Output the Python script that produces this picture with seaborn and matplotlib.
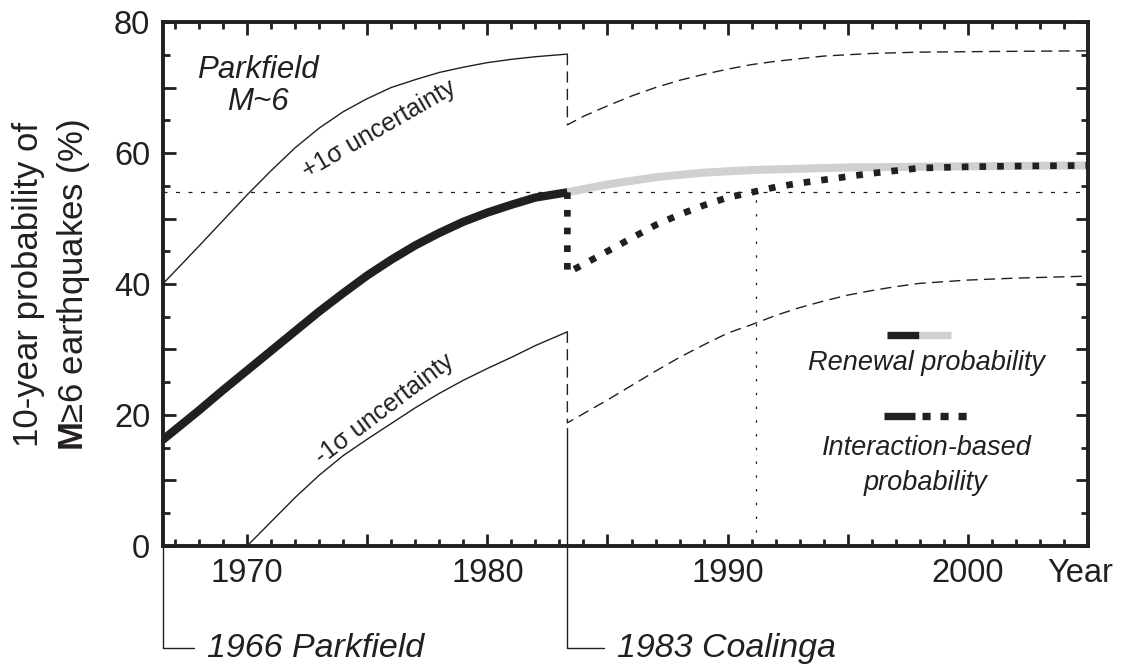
import matplotlib
matplotlib.use("Agg")
import matplotlib.pyplot as plt
import pandas as pd
import seaborn as sns
from matplotlib.ticker import MultipleLocator
from matplotlib.transforms import offset_copy

# ---- event times (decimal years) and reference levels ----
PARKFIELD_YEAR = 1966.49
COALINGA_YEAR = 1983.33
END_YEAR = 2005.0
RECOVERY_YEAR = 1991.2        # interaction probability regains the pre-Coalinga level
PRE_COALINGA_LEVEL = 54.0     # renewal probability just before Coalinga (%)

# ---- renewal probability up to 1983 (thick black) ----
renewal_years = [1966.49, 1968, 1969, 1970, 1971, 1972, 1973, 1974, 1975,
                 1976, 1977, 1978, 1979, 1980, 1981, 1982, 1983.33]
renewal_prob = [16.2, 20.7, 23.8, 26.8, 29.8, 32.8, 35.8, 38.6, 41.3,
                43.7, 45.9, 47.8, 49.5, 50.9, 52.1, 53.2, 54.0]

# ---- renewal probability after 1983 (grey) ----
renewal_after_years = [1983.33, 1985, 1987, 1989, 1991, 1993, 1995, 1998, 2001, 2005]
renewal_after_prob = [54.0, 55.2, 56.3, 57.0, 57.4, 57.6, 57.8, 57.9, 58.0, 58.1]

# ---- interaction-based probability (drops at Coalinga, then recovers) ----
interaction_years = [1983.33, 1983.33, 1984, 1985, 1986, 1987, 1988, 1989, 1990,
                     1991, 1992, 1993, 1994, 1995, 1996, 1998, 2000, 2002, 2005]
interaction_prob = [54.0, 41.7, 43.0, 45.0, 47.0, 49.0, 50.6, 52.0, 53.2,
                    54.0, 54.8, 55.4, 55.9, 56.4, 56.9, 57.7, 57.9, 58.0, 58.1]

# ---- +1 sigma bounds ----
upper_years = [1966.49, 1968, 1970, 1971, 1972, 1973, 1974, 1975, 1976,
               1977, 1978, 1979, 1980, 1981, 1982, 1983.33]
upper_prob = [40.0, 45.8, 53.6, 57.3, 60.8, 63.8, 66.3, 68.3, 70.0,
              71.2, 72.3, 73.1, 73.8, 74.3, 74.7, 75.1]
upper_after_years = [1983.33, 1983.33, 1984, 1985, 1986, 1987, 1988, 1989, 1990,
                     1991, 1992, 1994, 1996, 1998, 2001, 2005]
upper_after_prob = [75.1, 64.3, 65.6, 67.2, 68.7, 70.0, 71.1, 72.0, 72.8,
                    73.5, 74.0, 74.8, 75.2, 75.4, 75.5, 75.6]

# ---- -1 sigma bounds ----
lower_years = [1966.49, 1970, 1971, 1972, 1973, 1974, 1975, 1976, 1977,
               1978, 1979, 1980, 1981, 1982, 1983.33]
lower_prob = [0.0, 0.0, 3.7, 7.4, 10.8, 13.8, 16.3, 18.7, 21.1,
              23.3, 25.3, 27.1, 28.8, 30.6, 32.7]
lower_after_years = [1983.33, 1983.33, 1984, 1985, 1986, 1987, 1988, 1989, 1990,
                     1991, 1992, 1993, 1994, 1995, 1996, 1997, 1998, 2000, 2002, 2005]
lower_after_prob = [32.7, 18.8, 20.2, 22.3, 24.5, 26.7, 28.8, 30.7, 32.5,
                    33.8, 35.2, 36.4, 37.4, 38.3, 39.0, 39.6, 40.1, 40.6, 40.9, 41.2]

# ---- axis ticks ----
x_major = [1970, 1975, 1980, 1985, 1990, 1995, 2000, 2005]
x_labels = ["1970", "", "1980", "", "1990", "", "2000", ""]
y_major = [0, 10, 20, 30, 40, 50, 60, 70, 80]
y_labels = ["0", "", "20", "", "40", "", "60", "", "80"]

INK = "#231f20"
GREY = "#d0d0d0"

sns.set_theme(style="ticks")
plt.rcParams["font.family"] = ["Liberation Sans", "DejaVu Sans"]
plt.rcParams["mathtext.fontset"] = "custom"
plt.rcParams["mathtext.rm"] = "Liberation Sans"
plt.rcParams["mathtext.bf"] = "Liberation Sans:bold"
plt.rcParams["text.color"] = INK

fig = plt.figure(figsize=(11.23, 6.71), dpi=100)
ax = fig.add_axes([0.1449, 0.1863, 0.9689 - 0.1449, 0.9672 - 0.1863])


def draw(years, prob, **kw):
    df = pd.DataFrame({"year": years, "prob": prob})
    sns.lineplot(data=df, x="year", y="prob", ax=ax, estimator=None,
                 sort=False, legend=False, **kw)


dotted_sq = (0, (1.0, 1.65))
thin_dash = (0, (8, 4.5))

# reference lines
ax.axhline(PRE_COALINGA_LEVEL, color=INK, lw=0.9, linestyle=(0, (3.2, 6.8)), zorder=1)
ax.vlines(RECOVERY_YEAR, 0, PRE_COALINGA_LEVEL, color=INK, lw=0.9,
          linestyles=[(0, (2.0, 9.0))], zorder=1)

# uncertainty bounds
draw(upper_years, upper_prob, color=INK, lw=1.0)
draw(lower_years, lower_prob, color=INK, lw=1.0, clip_on=False)
draw(upper_after_years, upper_after_prob, color=INK, lw=1.0, linestyle=thin_dash)
draw(lower_after_years, lower_after_prob, color=INK, lw=1.0, linestyle=thin_dash)

# probabilities
draw(renewal_after_years, renewal_after_prob, color=GREY, lw=5.8,
     solid_capstyle="butt", zorder=3)
draw(interaction_years, interaction_prob, color=INK, lw=4.8,
     linestyle=dotted_sq, dash_capstyle="butt", zorder=4)
draw(renewal_years, renewal_prob, color=INK, lw=6.0,
     solid_capstyle="butt", zorder=5)

# axes styling
ax.set_xlim(PARKFIELD_YEAR, END_YEAR)
ax.set_ylim(0, 80)
ax.set_xticks(x_major, x_labels)
ax.set_yticks(y_major, y_labels)
ax.xaxis.set_minor_locator(MultipleLocator(1))
ax.yaxis.set_minor_locator(MultipleLocator(5))
ax.tick_params(which="both", direction="in", top=True, right=True,
               color=INK, width=2.0, labelsize=23.5, labelcolor=INK, pad=9)
ax.tick_params(which="major", length=9)
ax.tick_params(which="minor", length=5)
for s in ax.spines.values():
    s.set_linewidth(2.8)
    s.set_color(INK)
    s.set_zorder(6)
ax.set_xlabel("")
ax.set_ylabel("")
ax.grid(False)

ax.text(0.9914, 0, "Year", ha="center", va="top", fontsize=23.5, color=INK,
        transform=offset_copy(ax.transAxes, fig=fig, y=-9, units="points"))

# y-axis title, two lines
fig.text(38.5 / 1123, 1 - 284 / 671, "10-year probability of", rotation=90,
         rotation_mode="anchor", ha="center", va="baseline", fontsize=25, color=INK)
fig.text(83.5 / 1123, 1 - 285 / 671, r"$\mathbf{M}$≥6 earthquakes (%)", rotation=90,
         rotation_mode="anchor", ha="center", va="baseline", fontsize=25, color=INK)

# fault label
ax.text(0.1025, 0.8931, "Parkfield", style="italic", fontsize=22.5,
        ha="center", va="baseline", transform=ax.transAxes)
ax.text(0.1025, 0.8320, "M~6", style="italic", fontsize=22.5,
        ha="center", va="baseline", transform=ax.transAxes)

# curve labels
ax.text(0.2338, 0.7958, "+1σ uncertainty", fontsize=18, rotation=30,
        rotation_mode="anchor", ha="center", va="center", transform=ax.transAxes)
ax.text(0.2394, 0.2615, "-1σ uncertainty", fontsize=18, rotation=37,
        rotation_mode="anchor", ha="center", va="center", transform=ax.transAxes)

# key
ax.plot([0.7824, 0.8173], [0.4027, 0.4027], color=INK, lw=5.3,
        solid_capstyle="butt", transform=ax.transAxes)
ax.plot([0.8173, 0.8516], [0.4027, 0.4027], color=GREY, lw=5.3,
        solid_capstyle="butt", transform=ax.transAxes)
ax.text(0.8255, 0.3359, "Renewal probability", style="italic", fontsize=19.5,
        ha="center", va="baseline", transform=ax.transAxes)
ax.plot([0.7796, 0.8131], [0.2481, 0.2481], color=INK, lw=5.3,
        solid_capstyle="butt", transform=ax.transAxes)
ax.plot([0.8202, 0.8690], [0.2481, 0.2481], color=INK, lw=5.3,
        linestyle=(0, (1.1, 1.35)), dash_capstyle="butt", transform=ax.transAxes)
ax.text(0.8258, 0.1737, "Interaction-based", style="italic", fontsize=19.5,
        ha="center", va="baseline", transform=ax.transAxes)
ax.text(0.8240, 0.1069, "probability", style="italic", fontsize=19.5,
        ha="center", va="baseline", transform=ax.transAxes)

# event markers below the time axis
bracket = dict(arrowstyle="-", connectionstyle="angle,angleA=0,angleB=90,rad=0",
               shrinkA=7, shrinkB=0, lw=1.0, color=INK)
ax.annotate("1966 Parkfield", xy=(PARKFIELD_YEAR, 0), xycoords="data",
            xytext=(1968.32, -0.1947), textcoords=("data", "axes fraction"),
            ha="left", va="center", style="italic", fontsize=24.5,
            arrowprops=bracket, annotation_clip=False)
ax.annotate("1983 Coalinga", xy=(COALINGA_YEAR, 18.0), xycoords="data",
            xytext=(1985.40, -0.1947), textcoords=("data", "axes fraction"),
            ha="left", va="center", style="italic", fontsize=24.5,
            arrowprops=bracket, annotation_clip=False)

fig.savefig("out.png", dpi=100, facecolor="white")
